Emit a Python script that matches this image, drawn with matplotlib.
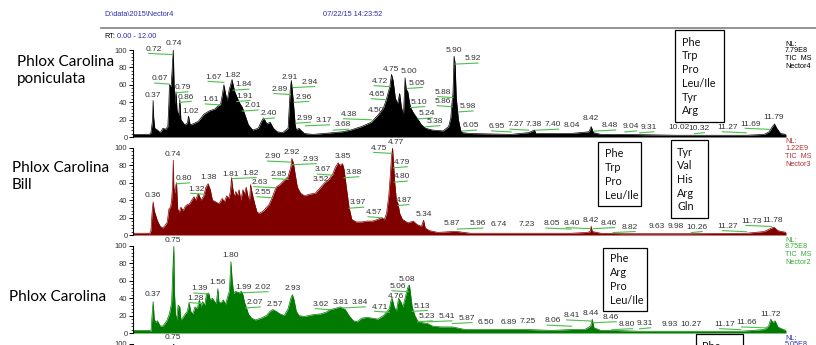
import matplotlib
matplotlib.use("Agg")
import matplotlib.pyplot as plt
from matplotlib.patches import Rectangle
from matplotlib.ticker import MultipleLocator

# chromatogram traces: retention time (min) and relative abundance (%)
p1_rt = [0.00, 0.30, 0.33, 0.36, 0.37, 0.38, 0.40, 0.45, 0.50, 0.55, 0.60, 0.64, 0.66, 0.67, 0.70, 0.72,
         0.74, 0.755, 0.77, 0.79, 0.81, 0.84, 0.86, 0.88, 0.95, 1.00, 1.02, 1.05, 1.10, 1.20, 1.30, 1.40,
         1.50, 1.55, 1.61, 1.64, 1.67, 1.70, 1.73, 1.77, 1.82, 1.84, 1.87, 1.91, 1.95, 2.01, 2.06, 2.12,
         2.20, 2.30, 2.36, 2.40, 2.46, 2.52, 2.58, 2.65, 2.75, 2.85, 2.89, 2.91, 2.94, 2.96, 2.98, 3.00,
         3.05, 3.08, 3.15, 3.30, 3.50, 3.68, 3.85, 4.00, 4.20, 4.38, 4.50, 4.60, 4.65, 4.72, 4.75, 4.78,
         4.82, 4.86, 4.90, 4.93, 4.97, 5.00, 5.02, 5.05, 5.08, 5.10, 5.15, 5.24, 5.30, 5.38, 5.50, 5.70,
         5.80, 5.84, 5.86, 5.88, 5.90, 5.92, 5.94, 5.98, 6.02, 6.05, 6.20, 6.95, 7.27, 7.38, 7.40, 8.04,
         8.38, 8.42, 8.46, 8.60, 9.04, 10.00, 11.27, 11.60, 11.69, 11.75, 11.79, 11.83, 11.90, 12.00]
p1_int = [3, 3, 5, 20, 42, 22, 10, 8, 5, 10, 9, 12, 40, 60, 58, 78,
          100, 60, 38, 52, 30, 25, 43, 20, 14, 16, 24, 14, 15, 18, 26, 30,
          32, 35, 38, 48, 60, 50, 42, 55, 66, 60, 52, 46, 40, 34, 25, 14,
          8, 10, 18, 22, 15, 17, 10, 6, 5, 10, 55, 65, 45, 30, 14, 8,
          10, 8, 4, 3, 4, 5, 6, 8, 12, 17, 25, 33, 42, 58, 72, 65,
          45, 38, 50, 35, 25, 68, 55, 52, 40, 34, 28, 20, 14, 10, 8, 7,
          12, 22, 38, 50, 93, 84, 45, 20, 8, 5, 4, 3, 5, 8, 4, 4,
          6, 12, 5, 3, 3, 2, 2, 3, 6, 12, 15, 10, 4, 3]

p2_rt = [0.00, 0.28, 0.30, 0.33, 0.35, 0.37, 0.39, 0.42, 0.45, 0.50, 0.55, 0.60, 0.63, 0.66, 0.69, 0.71,
         0.73, 0.74, 0.75, 0.77, 0.79, 0.80, 0.82, 0.85, 0.88, 0.92, 0.96, 1.00, 1.04, 1.08, 1.12, 1.15,
         1.20, 1.25, 1.30, 1.34, 1.38, 1.42, 1.46, 1.52, 1.58, 1.64, 1.68, 1.72, 1.76, 1.79, 1.81, 1.83,
         1.86, 1.89, 1.92, 1.95, 1.98, 2.02, 2.05, 2.08, 2.11, 2.14, 2.16, 2.19, 2.24, 2.28, 2.33, 2.40,
         2.50, 2.55, 2.60, 2.63, 2.70, 2.78, 2.85, 2.90, 2.92, 2.95, 2.98, 3.02, 3.08, 3.15, 3.25, 3.35,
         3.45, 3.52, 3.60, 3.67, 3.72, 3.77, 3.80, 3.85, 3.88, 3.92, 3.97, 4.02, 4.10, 4.20, 4.30, 4.40,
         4.50, 4.57, 4.62, 4.66, 4.70, 4.73, 4.75, 4.77, 4.79, 4.81, 4.84, 4.87, 4.90, 4.95, 5.05, 5.15,
         5.22, 5.30, 5.34, 5.37, 5.45, 5.60, 5.87, 5.96, 6.20, 6.74, 7.23, 8.05, 8.35, 8.40, 8.42, 8.44,
         8.60, 9.00, 10.26, 11.27, 11.60, 11.73, 11.78, 11.85, 12.00]
p2_int = [2, 2, 1, 5, 25, 38, 28, 22, 16, 10, 8, 12, 15, 30, 32, 40,
          60, 86, 55, 48, 58, 60, 30, 26, 32, 28, 33, 35, 36, 40, 44, 40,
          48, 40, 45, 55, 59, 52, 40, 38, 36, 42, 38, 45, 42, 50, 66, 55,
          44, 50, 45, 52, 40, 52, 47, 55, 45, 38, 58, 48, 35, 26, 25, 28,
          35, 42, 50, 55, 58, 63, 67, 78, 88, 82, 70, 55, 48, 45, 47, 48,
          55, 60, 64, 70, 78, 83, 80, 82, 75, 55, 32, 18, 15, 15, 16, 16,
          18, 20, 18, 25, 45, 70, 90, 100, 80, 60, 40, 36, 25, 18, 14, 16,
          12, 10, 17, 8, 5, 3, 4, 4, 2, 2, 2, 2, 3, 4, 10, 4,
          2, 1.5, 1.5, 2, 4, 8, 9, 5, 3]

p3_rt = [0.00, 0.30, 0.33, 0.35, 0.37, 0.39, 0.42, 0.45, 0.50, 0.55, 0.62, 0.67, 0.71, 0.73, 0.75, 0.76,
         0.78, 0.80, 0.83, 0.86, 0.88, 0.92, 0.96, 1.00, 1.03, 1.06, 1.10, 1.14, 1.18, 1.22, 1.25, 1.28,
         1.32, 1.35, 1.39, 1.42, 1.46, 1.50, 1.53, 1.56, 1.58, 1.62, 1.66, 1.70, 1.74, 1.77, 1.80, 1.82,
         1.85, 1.88, 1.92, 1.96, 1.99, 2.02, 2.05, 2.08, 2.12, 2.18, 2.25, 2.35, 2.45, 2.52, 2.57, 2.63,
         2.70, 2.78, 2.85, 2.90, 2.93, 2.96, 3.00, 3.05, 3.15, 3.30, 3.45, 3.55, 3.62, 3.70, 3.81, 3.90,
         3.97, 4.05, 4.12, 4.20, 4.30, 4.40, 4.50, 4.60, 4.66, 4.71, 4.74, 4.76, 4.80, 4.84, 4.88, 4.92,
         4.96, 5.00, 5.04, 5.06, 5.08, 5.10, 5.13, 5.18, 5.23, 5.30, 5.41, 5.50, 5.65, 5.87, 6.10, 6.50,
         6.89, 7.25, 7.70, 8.06, 8.30, 8.41, 8.44, 8.47, 8.60, 8.80, 9.31, 9.93, 10.27, 11.17, 11.60, 11.68,
         11.72, 11.76, 11.80, 11.85, 11.95, 12.00]
p3_int = [3, 3, 2, 20, 36, 16, 12, 14, 8, 8, 14, 22, 35, 70, 100, 50,
          22, 15, 32, 30, 15, 18, 22, 25, 35, 25, 22, 30, 28, 38, 30, 36,
          32, 45, 46, 38, 40, 36, 34, 51, 35, 35, 38, 33, 42, 48, 82, 62,
          45, 48, 47, 46, 48, 44, 35, 30, 22, 17, 15, 17, 20, 25, 27, 25,
          22, 20, 28, 40, 44, 38, 25, 20, 19, 21, 22, 24, 27, 28, 30, 27,
          20, 14, 13, 17, 18, 17, 16, 20, 24, 28, 37, 40, 30, 25, 40, 36,
          30, 40, 50, 54, 55, 45, 30, 20, 14, 12, 11, 8, 7, 7, 4, 4,
          4, 4, 3, 4, 4, 8, 16, 6, 3, 3, 2, 2, 2, 2, 4, 8,
          16, 12, 14, 7, 4, 3]

p4_rt = [0.70, 0.74, 0.75, 0.76, 0.80]
p4_int = [5, 60, 100, 50, 5]

# peak labels (retention times) and where each label sits
p1_lab = ["0.72", "0.74", "0.67", "0.79", "0.37", "0.86", "1.02", "1.67", "1.82", "1.84", "1.61", "1.91",
          "2.01", "2.40", "2.91", "2.94", "2.89", "2.96", "2.99", "3.17", "3.68", "4.38", "4.50", "4.65",
          "4.72", "4.75", "5.00", "5.05", "5.10", "5.24", "5.38", "5.88", "5.86", "5.90", "5.92", "5.98",
          "6.05", "6.95", "7.27", "7.38", "7.40", "8.04", "8.42", "8.48", "9.04", "9.31", "10.02", "10.32",
          "11.27", "11.69", "11.79"]
p1_lab_x = [0.39, 0.75, 0.50, 0.91, 0.36, 0.97, 1.05, 1.48, 1.82, 2.03, 1.43, 2.05,
            2.20, 2.50, 2.89, 3.24, 2.69, 3.13, 3.16, 3.51, 3.86, 3.97, 4.47, 4.48,
            4.53, 4.75, 5.07, 5.22, 5.26, 5.40, 5.54, 5.70, 5.69, 5.90, 6.24, 6.15,
            6.21, 6.69, 7.03, 7.37, 7.72, 8.06, 8.42, 8.77, 9.15, 9.47, 10.03, 10.40,
            10.93, 11.35, 11.78]
p1_lab_y = [96, 103, 62, 52, 43, 41, 24, 64, 66, 55, 38, 42,
            31, 22, 64, 58, 50, 41, 17, 14, 9, 21, 26, 44,
            59, 73, 71, 57, 35, 22, 13, 46.5, 36, 95, 85, 30,
            8, 7, 9, 10, 9, 8, 17, 8, 7, 6, 6, 5,
            6, 10, 18]

p2_lab = ["0.36", "0.74", "0.80", "1.32", "1.38", "1.81", "1.82", "2.63", "2.55", "2.85", "2.90", "2.92",
          "2.93", "3.67", "3.52", "3.85", "3.88", "3.97", "4.57", "4.75", "4.77", "4.79", "4.80", "4.87",
          "5.34", "5.87", "5.96", "6.74", "7.23", "8.05", "8.40", "8.42", "8.46", "8.82", "9.63", "9.98",
          "10.26", "11.27", "11.73", "11.78"]
p2_lab_x = [0.37, 0.74, 0.94, 1.16, 1.38, 1.80, 2.16, 2.32, 2.38, 2.67, 2.57, 2.92,
            3.27, 3.49, 3.46, 3.85, 4.05, 4.14, 4.42, 4.52, 4.83, 4.94, 4.94, 4.97,
            5.34, 5.86, 6.33, 6.73, 7.23, 7.69, 8.06, 8.41, 8.75, 9.13, 9.62, 9.98,
            10.36, 10.93, 11.36, 11.76]
p2_lab_y = [41, 88, 60, 48, 61, 65, 66, 55.5, 44, 65, 85, 90,
            82, 70, 59, 85, 67, 32, 21, 95, 102, 78.5, 62, 35,
            19, 8, 8, 7, 7, 8, 8.5, 12, 8.5, 4, 5, 5,
            4, 5, 11, 12]

p3_lab = ["0.37", "0.75", "1.80", "1.28", "1.39", "1.56", "1.99", "2.02", "2.07", "2.57", "2.93", "3.62",
          "3.81", "3.84", "4.71", "4.76", "5.06", "5.08", "5.13", "5.23", "5.41", "5.87", "6.50", "6.89",
          "7.25", "8.06", "8.41", "8.44", "8.46", "8.80", "9.31", "9.93", "10.27", "11.17", "11.66", "11.72"]
p3_lab_x = [0.37, 0.74, 1.80, 1.14, 1.22, 1.56, 2.03, 2.38, 2.24, 2.61, 2.93, 3.45,
            3.82, 4.17, 4.54, 4.83, 4.86, 5.04, 5.31, 5.40, 5.76, 6.13, 6.49, 6.90,
            7.25, 7.71, 8.07, 8.41, 8.78, 9.08, 9.41, 9.87, 10.25, 10.88, 11.28, 11.71]
p3_lab_y = [39, 102, 84, 35, 46, 53, 47.5, 47.5, 30, 28, 46, 28,
            30, 30, 25, 37, 48.6, 57, 26, 14, 14, 12, 7, 7,
            8, 9, 15, 18, 13, 5, 6, 5, 5, 5, 7, 17]

p4_lab = ["0.75"]
p4_lab_x = [0.74]
p4_lab_y = [103]

samples = ["Phlox Carolina\nponiculata", "Phlox Carolina\nBill", "Phlox Carolina"]
nl_values = ["7.79E8", "1.22E9", "8.75E8", "5.05E8"]
files = ["Nector4", "Nector3", "Nector2"]

box1 = ["Phe", "Trp", "Pro", "Leu/Ile", "Tyr", "Arg"]
box2a = ["Phe", "Trp", "Pro", "Leu/Ile"]
box2b = ["Tyr", "Val", "His", "Arg", "Gln"]
box3 = ["Phe", "Arg", "Pro", "Leu/Ile"]
box4 = ["Phe"]

W, H = 816, 345
LAB_FONT = "Liberation Sans"
BOX_FONT = "Lato"


def fx(px):
    return px / W


def fy(py):
    return 1 - py / H


def make_axes(fig, y_top_px, yticks=(0, 20, 40, 60, 80, 100)):
    # 100 % sits at y_top_px, the panel is 87 px tall
    ax = fig.add_axes([fx(133), fy(y_top_px + 87), fx(786) - fx(133), 87 / H])
    ax.set_xlim(0, 12)
    ax.set_ylim(0, 100)
    for s in ["top", "right", "bottom"]:
        ax.spines[s].set_visible(False)
    ax.spines["left"].set_linewidth(0.8)
    ax.set_xticks([])
    ax.set_yticks(list(yticks))
    ax.yaxis.set_minor_locator(MultipleLocator(4))
    ax.tick_params(axis="y", which="major", length=3, width=0.7, pad=1, labelsize=5.5,
                   labelcolor="#333333")
    ax.tick_params(axis="y", which="minor", length=1.6, width=0.5)
    for t in ax.get_yticklabels():
        t.set_fontfamily(LAB_FONT)
    ax.patch.set_alpha(0)
    return ax


def draw_trace(ax, rt, inten, color):
    ax.fill_between(rt, 0, inten, color=color, lw=0)
    ax.plot(rt, inten, color=color, lw=0.5)


def draw_labels(ax, texts, xs, ys):
    for t, x, y in zip(texts, xs, ys):
        peak = float(t)
        if abs(x - peak) > 0.08:
            ext = 0.1 if x < peak else -0.1
            ax.plot([x - ext, peak], [y, y - 1.2], color="#4cc04c", lw=0.8, clip_on=False)
        ax.text(x, y + 0.8, t, ha="center", va="bottom", fontsize=6, color="#333333",
                family=LAB_FONT, clip_on=False)


def draw_box(fig, x0, y0, x1, y1, items, tx, ty, step):
    fig.patches.append(Rectangle((fx(x0), fy(y1)), fx(x1) - fx(x0), (y1 - y0) / H,
                                 transform=fig.transFigure, fill=False, lw=0.9, ec="black"))
    for i, s in enumerate(items):
        fig.text(fx(tx), fy(ty + i * step), s, ha="left", va="center", fontsize=7.8,
                 family=BOX_FONT, color="#111111")


def draw_nl(fig, py, lines, color):
    offs = [0, 7, 15, 22]
    for s, o in zip(lines, offs):
        fig.text(fx(785), fy(py + o), s, ha="left", va="center", fontsize=5.2,
                 family=LAB_FONT, color=color)


fig = plt.figure(figsize=(W / 100, H / 100), dpi=100)

# header
blue = "#2b2bb0"
fig.text(fx(104), fy(14), "D:\\data\\2015\\Nector4", fontsize=5.3, family=LAB_FONT,
         color=blue, va="center")
fig.text(fx(323), fy(14), "07/22/15 14:23:52", fontsize=5.3, family=LAB_FONT,
         color=blue, va="center")
fig.add_artist(plt.Line2D([fx(101), 1], [fy(28), fy(28)], transform=fig.transFigure,
                          color="#808080", lw=1.2))
fig.text(fx(104), fy(36), "RT:", fontsize=5.3, family=LAB_FONT, color="black", va="center")
fig.text(fx(117), fy(36), "0.00 - 12.00", fontsize=5.3, family=LAB_FONT, color=blue,
         va="center")

ax1 = make_axes(fig, 50)
draw_trace(ax1, p1_rt, p1_int, "black")
draw_labels(ax1, p1_lab, p1_lab_x, p1_lab_y)

ax2 = make_axes(fig, 148)
draw_trace(ax2, p2_rt, p2_int, "#800000")
draw_labels(ax2, p2_lab, p2_lab_x, p2_lab_y)

ax3 = make_axes(fig, 246)
draw_trace(ax3, p3_rt, p3_int, "#007a00")
draw_labels(ax3, p3_lab, p3_lab_x, p3_lab_y)

# next sample starts at the bottom edge, only its top is in view
ax4 = make_axes(fig, 344, yticks=(100,))
draw_trace(ax4, p4_rt, p4_int, "#1a1aa0")
draw_labels(ax4, p4_lab, p4_lab_x, p4_lab_y)

# sample names
fig.text(fx(17), fy(83), samples[0], fontsize=11, family=BOX_FONT, va="baseline",
         linespacing=1.25)
fig.text(fx(12), fy(189), samples[1], fontsize=11, family=BOX_FONT, va="baseline",
         linespacing=1.3)
fig.text(fx(9), fy(301), samples[2], fontsize=11, family=BOX_FONT, va="baseline")

# normalisation level / scan info at the right
draw_nl(fig, 44, ["NL:", nl_values[0], "TIC  MS", files[0]], "black")
draw_nl(fig, 142, ["NL:", nl_values[1], "TIC  MS", files[1]], "#b03030")
draw_nl(fig, 240, ["NL:", nl_values[2], "TIC  MS", files[2]], "#3aaa3a")
draw_nl(fig, 338, ["NL:", nl_values[3]], "#3030b0")

# amino acid boxes
draw_box(fig, 675, 30, 724, 122, box1, 682, 42, 13.8)
draw_box(fig, 598, 142, 641, 206, box2a, 605, 154, 13.8)
draw_box(fig, 671, 140, 708, 218, box2b, 677, 152, 13.7)
draw_box(fig, 603, 248, 647, 311, box3, 610, 259, 14)
draw_box(fig, 696, 334, 743, 380, box4, 702, 347, 14)

fig.savefig("out.png", dpi=100)
